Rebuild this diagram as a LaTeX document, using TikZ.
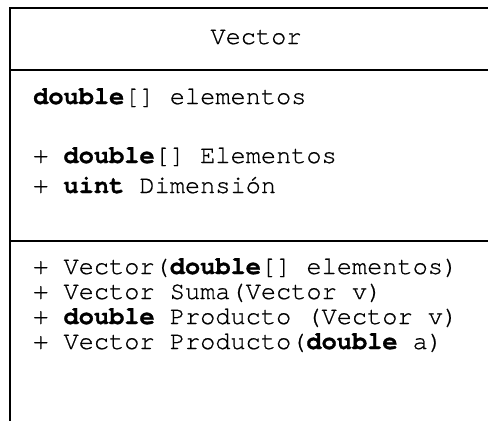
\documentclass[tikz,border=0pt]{standalone}
\usepackage{fontspec}
\setmonofont{TeX Gyre Cursor}[UprightFeatures={FakeBold=0.7}, BoldFeatures={FakeBold=1.2}]
\begin{document}
\begin{tikzpicture}[x=1pt,y=-1pt,
  txt/.style={font=\ttfamily\fontsize{25.3}{30}\selectfont, inner sep=0pt, anchor=base west},
  ttl/.style={font=\ttfamily\fontsize{25.3}{30}\selectfont, inner sep=0pt, anchor=base},
  rule/.style={line width=2pt, black}]
\useasboundingbox (0,0) rectangle (488,421);
\fill[white] (0,0) rectangle (488,421);
\coordinate (tl) at (10,7.5);
\coordinate (tr) at (488,7.5);
\coordinate (bl) at (10,421);
\coordinate (s1l) at (10,69.5);
\coordinate (s1r) at (488,69.5);
\coordinate (s2l) at (10,240.5);
\coordinate (s2r) at (488,240.5);
\draw[rule] (tr) -- (tl) -- (bl);
\draw[rule] (s1l) -- (s1r);
\draw[rule] (s2l) -- (s2r);
\node[ttl] (title) at (256,44) {Vector};
\node[txt] (f1) at (33,104) {\textbf{double}[] elementos};
\node[txt] (p1) at (33,163) {+ \textbf{double}[] Elementos};
\node[txt] (p2) at (33,193) {+ \textbf{uint} Dimensión};
\node[txt] (m1) at (33,274) {+ Vector(\textbf{double}[] elementos)};
\node[txt] (m2) at (33,299) {+ Vector Suma(Vector v)};
\node[txt] (m3) at (33,324) {+ \textbf{double} Producto (Vector v)};
\node[txt] (m4) at (33,349) {+ Vector Producto(\textbf{double} a)};
\end{tikzpicture}
\end{document}
